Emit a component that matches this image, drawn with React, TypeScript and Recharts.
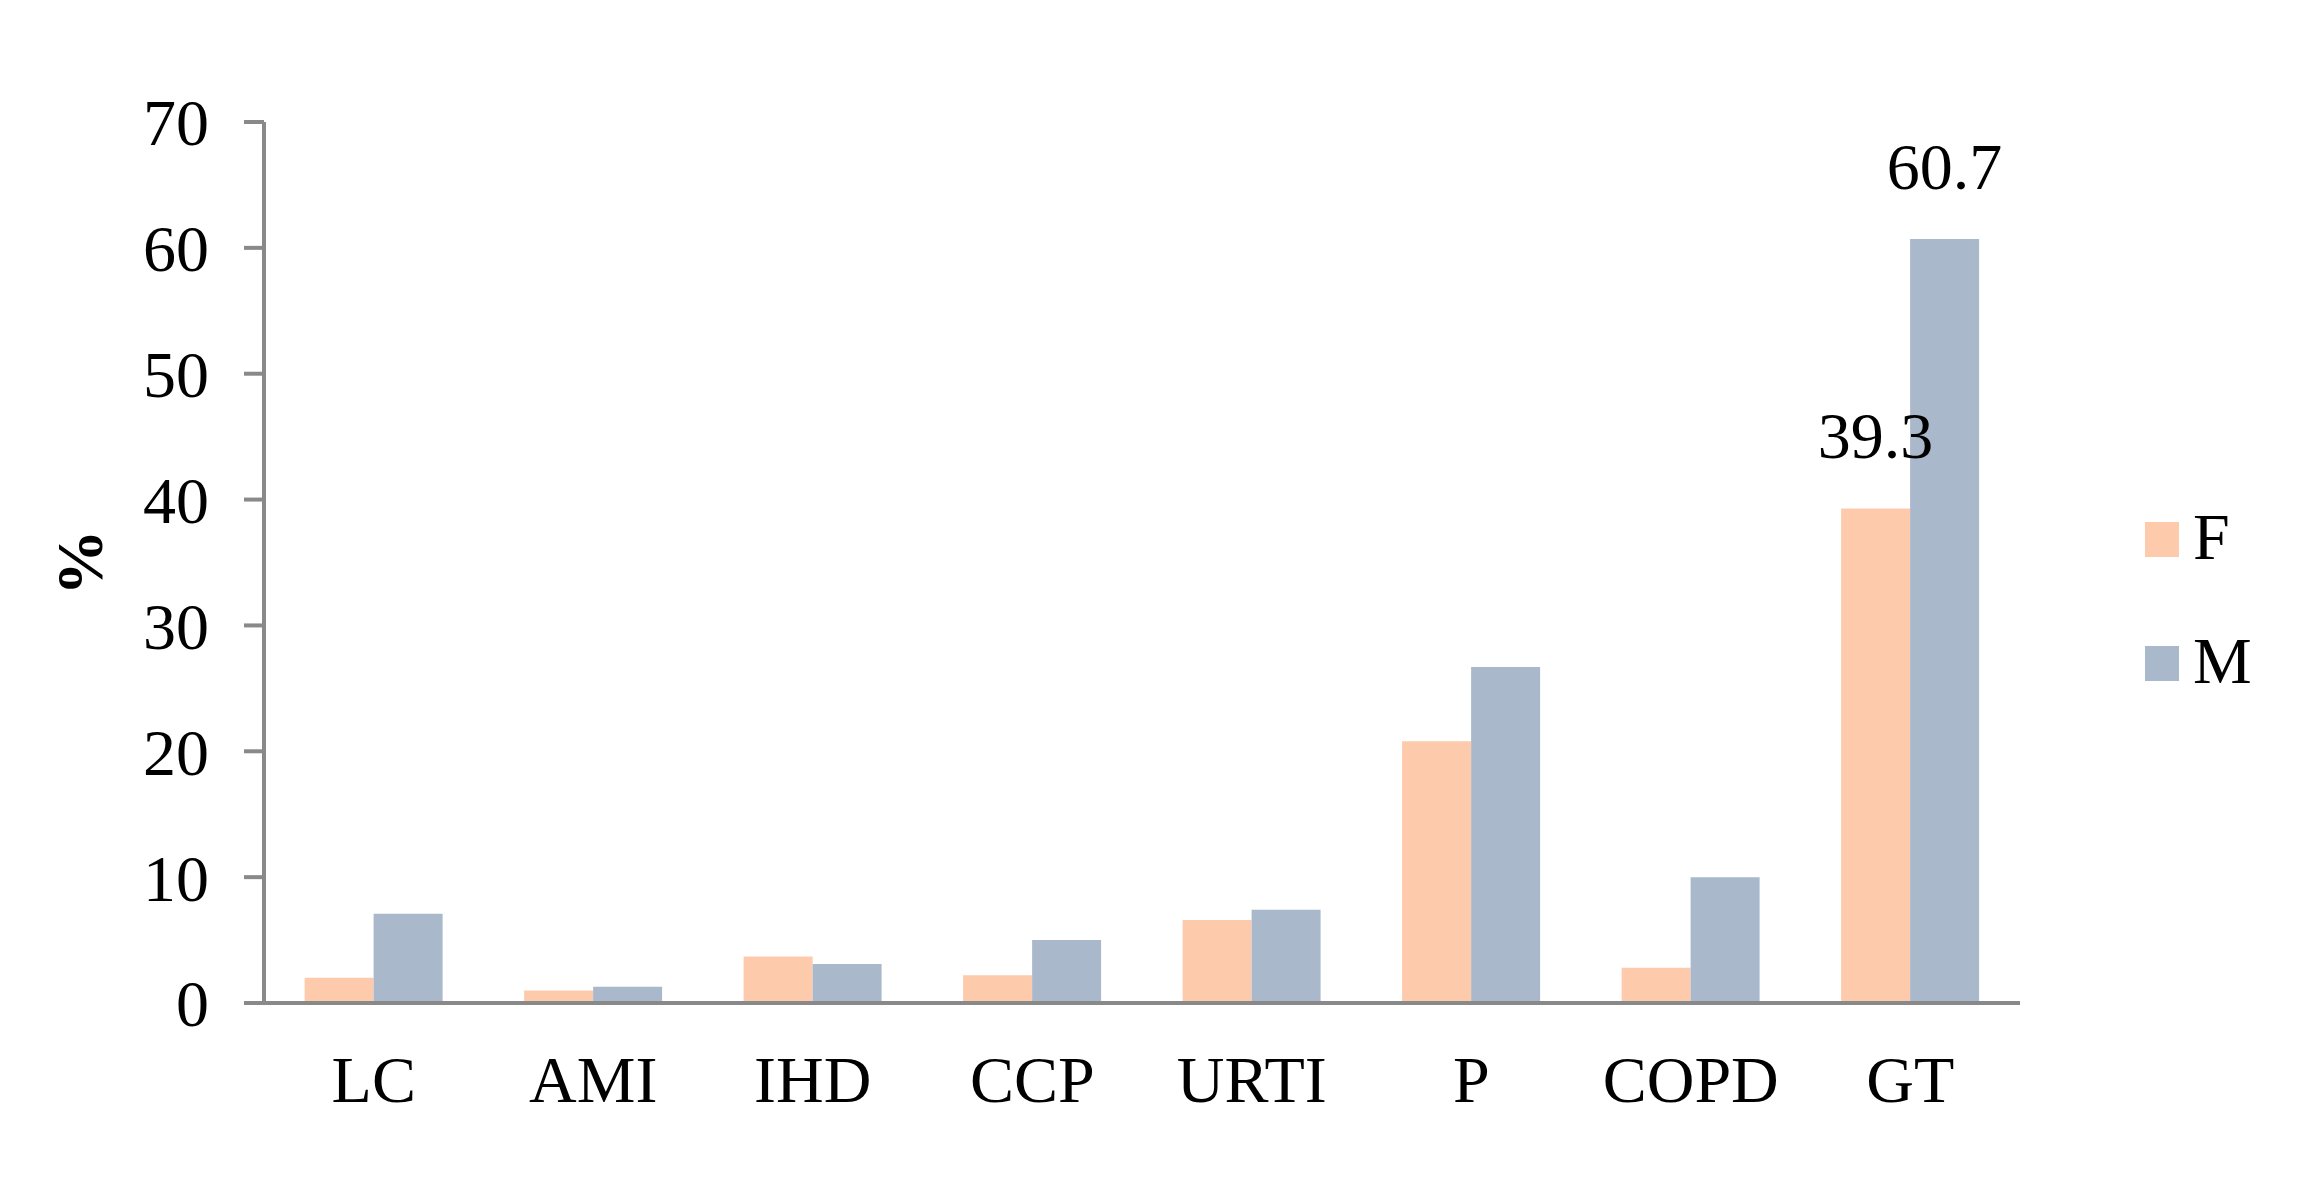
import { BarChart, Bar, XAxis, YAxis, Legend, LabelList } from 'recharts';

const categories = ['LC', 'AMI', 'IHD', 'CCP', 'URTI', 'P', 'COPD', 'GT'];
const femaleValues = [2.0, 1.0, 3.7, 2.2, 6.6, 20.8, 2.8, 39.3];
const maleValues = [7.1, 1.3, 3.1, 5.0, 7.4, 26.7, 10.0, 60.7];
const labeledCategories = ['GT'];
const yTicks = [0, 10, 20, 30, 40, 50, 60, 70];

const FEMALE_COLOR = '#FDCBAC';
const MALE_COLOR = '#A9B9CB';
const AXIS_COLOR = '#898989';
const FONT = '"Liberation Serif", "Times New Roman", serif';

const data = categories.map((name, i) => ({
  name,
  F: femaleValues[i],
  M: maleValues[i],
  fLabel: labeledCategories.includes(name) ? femaleValues[i] : null,
  mLabel: labeledCategories.includes(name) ? maleValues[i] : null,
}));

const renderValueLabel = (props: any) => {
  const { x, y, width, value } = props;
  if (value === null || value === undefined) return null;
  return (
    <text
      x={Number(x) + Number(width) / 2}
      y={Number(y) - 50}
      textAnchor="middle"
      fontSize={66}
      fontFamily={FONT}
      fill="#000"
    >
      {Number(value).toFixed(1)}
    </text>
  );
};

const renderYLabel = (props: any) => {
  const { viewBox } = props;
  const cy = viewBox.y + viewBox.height / 2;
  const cx = 79;
  return (
    <text
      x={cx}
      y={cy}
      transform={`rotate(-90 ${cx} ${cy})`}
      textAnchor="middle"
      dominantBaseline="central"
      fontSize={66}
      fontWeight="bold"
      fontFamily={FONT}
      fill="#000"
    >
      %
    </text>
  );
};

const LegendContent = () => (
  <svg width={150} height={200} style={{ display: 'block' }}>
    <rect x={0} y={22} width={34} height={35} fill={FEMALE_COLOR} />
    <text x={48} y={59} fontSize={66} fontFamily={FONT} fill="#000">F</text>
    <rect x={0} y={146} width={34} height={35} fill={MALE_COLOR} />
    <text x={48} y={183} fontSize={66} fontFamily={FONT} fill="#000">M</text>
  </svg>
);

export default function App() {
  return (
    <div style={{ position: 'absolute', left: 0, top: 0, width: 2298, height: 1183, background: '#fff' }}>
      <BarChart
        width={2298}
        height={1183}
        data={data}
        margin={{ top: 122, right: 278, bottom: 120, left: 0 }}
        barCategoryGap="18.5%"
        barGap={0}
        style={{ fontFamily: FONT }}
      >
        <XAxis
          dataKey="name"
          interval={0}
          height={60}
          stroke={AXIS_COLOR}
          strokeWidth={4}
          axisLine={{ stroke: AXIS_COLOR, strokeWidth: 4 }}
          tickLine={false}
          tickSize={0}
          tickMargin={52}
          tick={{ fill: '#000', fontSize: 66, fontFamily: FONT, stroke: 'none' }}
        />
        <YAxis
          width={264}
          domain={[0, 70]}
          ticks={yTicks}
          interval={0}
          stroke={AXIS_COLOR}
          strokeWidth={4}
          axisLine={{ stroke: AXIS_COLOR, strokeWidth: 4 }}
          tickLine={{ stroke: AXIS_COLOR, strokeWidth: 4 }}
          tickSize={20}
          tickMargin={35}
          tick={{ fill: '#000', fontSize: 66, fontFamily: FONT, stroke: 'none' }}
          label={{ content: renderYLabel }}
        />
        <Legend
          layout="vertical"
          align="center"
          verticalAlign="middle"
          content={<LegendContent />}
          wrapperStyle={{ left: 2145, top: 500, width: 150, height: 200 }}
        />
        <Bar dataKey="F" name="F" fill={FEMALE_COLOR} isAnimationActive={false}>
          <LabelList dataKey="fLabel" content={renderValueLabel} />
        </Bar>
        <Bar dataKey="M" name="M" fill={MALE_COLOR} isAnimationActive={false}>
          <LabelList dataKey="mLabel" content={renderValueLabel} />
        </Bar>
      </BarChart>
    </div>
  );
}
